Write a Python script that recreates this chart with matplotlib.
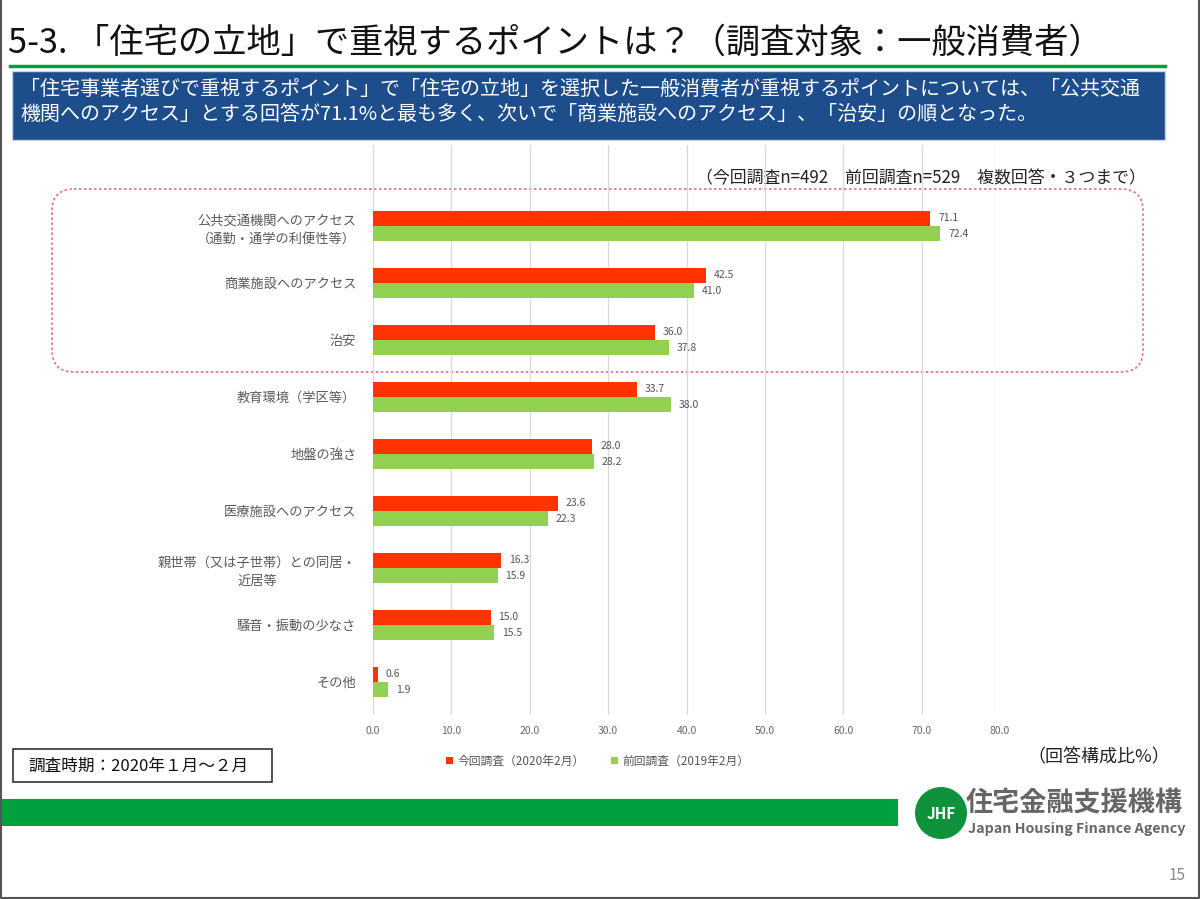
import matplotlib
matplotlib.use('Agg')
import matplotlib.pyplot as plt
from matplotlib.patches import FancyBboxPatch, Rectangle, Circle
import numpy as np

plt.rcParams['font.family'] = ['Noto Sans CJK JP', 'DejaVu Sans']

# データ
categories = ['公共交通機関へのアクセス\n（通勤・通学の利便性等）', '商業施設へのアクセス', '治安',
              '教育環境（学区等）', '地盤の強さ', '医療施設へのアクセス',
              '親世帯（又は子世帯）との同居・\n近居等', '騒音・振動の少なさ', 'その他']
current = [71.1, 42.5, 36.0, 33.7, 28.0, 23.6, 16.3, 15.0, 0.6]
previous = [72.4, 41.0, 37.8, 38.0, 28.2, 22.3, 15.9, 15.5, 1.9]
series_names = ['今回調査（2020年2月）', '前回調査（2019年2月）']
xticks = [0, 10, 20, 30, 40, 50, 60, 70, 80]

W, H = 1200, 899
fig = plt.figure(figsize=(12, 8.99), dpi=100)

# 背景用（ピクセル座標）
bg = fig.add_axes([0, 0, 1, 1])
bg.set_xlim(0, W)
bg.set_ylim(H, 0)
bg.axis('off')

# タイトル
bg.text(8, 43, '5-3. 「住宅の立地」で重視するポイントは？（調査対象：一般消費者）',
        fontsize=24.7, va='center', ha='left', color='#111111')
bg.plot([10, 1165], [66, 66], color='#00a040', lw=2.5)
bg.add_patch(Rectangle((12, 71), 1153, 69, facecolor='#1e4d8c', edgecolor='#c8d4e6', lw=1))
bg.text(20, 89, '「住宅事業者選びで重視するポイント」で「住宅の立地」を選択した一般消費者が重視するポイントについては、「公共交通',
        fontsize=14.4, color='white', va='center', ha='left')
bg.text(20, 114, '機関へのアクセス」とする回答が71.1%と最も多く、次いで「商業施設へのアクセス」、「治安」の順となった。',
        fontsize=14.4, color='white', va='center', ha='left')

# 点線の枠
bg.add_patch(FancyBboxPatch((52, 189), 1091, 183, boxstyle='round,pad=0,rounding_size=22',
                            facecolor='none', edgecolor='#e0707a', lw=1.2, ls=(0, (1.5, 1.5))))

bg.text(1146, 178, '（今回調査n=492　前回調査n=529　複数回答・３つまで）', fontsize=12.2,
        ha='right', va='center', color='#222222')

# 下部
bg.text(1170, 757, '（回答構成比%）', fontsize=13, ha='right', va='center', color='#222222')
bg.add_patch(Rectangle((13, 749), 259, 33, facecolor='white', edgecolor='#333333', lw=1.2))
bg.text(28, 766, '調査時期：2020年１月～２月', fontsize=12, ha='left', va='center', color='#111111')
bg.add_patch(Rectangle((0, 799), 898, 27, facecolor='#00a03c', edgecolor='none'))
bg.add_patch(Circle((941, 813), 26, facecolor='#10913c', edgecolor='none'))
bg.text(941, 814, 'JHF', fontsize=11, color='white', ha='center', va='center', fontweight='bold')
bg.text(966, 803, '住宅金融支援機構', fontsize=19.5, color='#666666', ha='left', va='center',
        fontweight='bold')
bg.text(968, 829, 'Japan Housing Finance Agency', fontsize=10.3, color='#666666', ha='left',
        va='center', fontweight='bold')
bg.text(1186, 876, '15', fontsize=11, color='#888888', ha='right', va='center')
bg.plot([1, 1, W - 1, W - 1], [0, H - 1, H - 1, 0], color='#555555', lw=1.5)

# グラフ本体
ax = fig.add_axes([373 / W, 1 - 715 / H, 627 / W, 570 / H])
ax.patch.set_alpha(0)
y = np.arange(len(categories))
h = 0.27
b1 = ax.barh(y - h / 2, current, height=h, color='#ff3300', label=series_names[0], zorder=3)
b2 = ax.barh(y + h / 2, previous, height=h, color='#92d050', label=series_names[1], zorder=3)
for v, yy in zip(current, y - h / 2):
    ax.text(v + 1.0, yy, f'{v:.1f}', fontsize=7.5, va='center', ha='left', color='#555555')
for v, yy in zip(previous, y + h / 2):
    ax.text(v + 1.0, yy, f'{v:.1f}', fontsize=7.5, va='center', ha='left', color='#555555')

ax.set_xlim(0, 80)
ax.set_ylim(8.58, -1.42)
ax.set_xticks(xticks)
ax.set_xticklabels([f'{t:.1f}' for t in xticks], fontsize=7.5, color='#666666')
ax.set_yticks(y)
ax.set_yticklabels(categories, fontsize=9.5, color='#595959', multialignment='center',
                   linespacing=1.5)
ax.tick_params(axis='both', length=0)
ax.tick_params(axis='x', pad=8)
ax.tick_params(axis='y', pad=12)
for s in ax.spines.values():
    s.set_visible(False)
ax.grid(axis='x', color='#d9d9d9', lw=0.9, zorder=0)

fig.legend(handles=[b1, b2], loc='center', bbox_to_anchor=(598 / W, 1 - 761 / H), ncol=2,
           frameon=False, fontsize=8.5, handlelength=0.6, handleheight=0.6, columnspacing=2.2,
           handletextpad=0.4, labelcolor='#555555')

fig.savefig('out.png', dpi=100)
